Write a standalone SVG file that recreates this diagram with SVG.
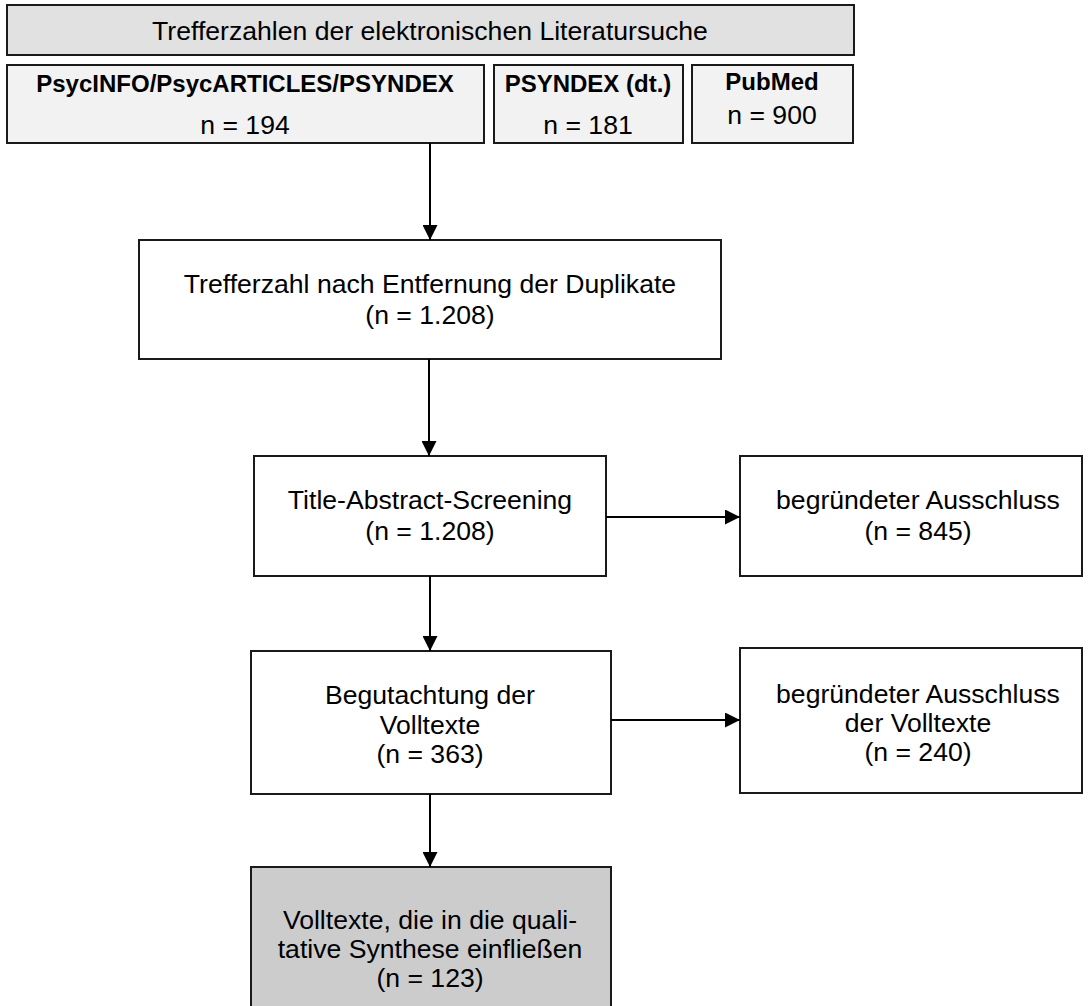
<svg xmlns="http://www.w3.org/2000/svg" width="1088" height="1006" viewBox="0 0 1088 1006">
<defs>
<marker id="ah" viewBox="0 0 10 10" refX="10" refY="5" markerWidth="15" markerHeight="15" markerUnits="userSpaceOnUse" orient="auto">
<path d="M0,0 L10,5 L0,10 Z" fill="#000"/>
</marker>
<style>
.box{stroke:#1a1a1a;stroke-width:2;fill:#fff}
.g1{fill:#e1e1e1}
.g2{fill:#f2f2f2}
.g3{fill:#cccccc}
text{font-family:"Liberation Sans",Arial,sans-serif;font-size:26.6px;fill:#000;text-anchor:middle}
.b{font-weight:bold;font-size:24px}
.c{stroke:#000;stroke-width:2;fill:none;marker-end:url(#ah)}
</style>
</defs>
<g id="n-header">
<rect class="box g1" x="7" y="5" width="847" height="50"/>
<text x="430" y="40">Trefferzahlen der elektronischen Literatursuche</text>
</g>
<g id="n-psycinfo">
<rect class="box g2" x="7" y="65" width="477" height="78"/>
<text class="b" x="245" y="92">PsycINFO/PsycARTICLES/PSYNDEX</text>
<text x="245" y="134">n = 194</text>
</g>
<g id="n-psyndex">
<rect class="box g2" x="494" y="65" width="189" height="78"/>
<text class="b" x="588" y="92">PSYNDEX (dt.)</text>
<text x="588" y="134">n = 181</text>
</g>
<g id="n-pubmed">
<rect class="box g2" x="692" y="65" width="161" height="78"/>
<text class="b" x="772" y="90">PubMed</text>
<text x="772" y="124">n = 900</text>
</g>
<g id="n-dedup">
<rect class="box" x="139" y="240" width="582" height="119"/>
<text x="430" y="293">Trefferzahl nach Entfernung der Duplikate</text>
<text x="430" y="324">(n = 1.208)</text>
</g>
<g id="n-screening">
<rect class="box" x="254" y="456" width="352" height="120"/>
<text x="430" y="509">Title-Abstract-Screening</text>
<text x="430" y="540">(n = 1.208)</text>
</g>
<g id="n-excl1">
<rect class="box" x="740" y="456" width="342" height="120"/>
<text x="918" y="509">begründeter Ausschluss</text>
<text x="918" y="540">(n = 845)</text>
</g>
<g id="n-fulltext">
<rect class="box" x="251" y="651" width="360" height="143"/>
<text x="430" y="704">Begutachtung der</text>
<text x="430" y="734">Volltexte</text>
<text x="430" y="763">(n = 363)</text>
</g>
<g id="n-excl2">
<rect class="box" x="740" y="648" width="342" height="145"/>
<text x="918" y="703">begründeter Ausschluss</text>
<text x="918" y="732">der Volltexte</text>
<text x="918" y="761">(n = 240)</text>
</g>
<g id="n-synth">
<rect class="box g3" x="251" y="867" width="360" height="150"/>
<text x="430" y="929">Volltexte, die in die quali-</text>
<text x="430" y="958">tative Synthese einfließen</text>
<text x="430" y="987">(n = 123)</text>
</g>
<g id="connectors">
<line class="c" x1="430" y1="143" x2="430" y2="240"/>
<line class="c" x1="429" y1="359" x2="429" y2="456"/>
<line class="c" x1="606" y1="517" x2="740" y2="517"/>
<line class="c" x1="430" y1="576" x2="430" y2="651"/>
<line class="c" x1="611" y1="720" x2="740" y2="720"/>
<line class="c" x1="430" y1="794" x2="430" y2="867"/>
</g>
</svg>
